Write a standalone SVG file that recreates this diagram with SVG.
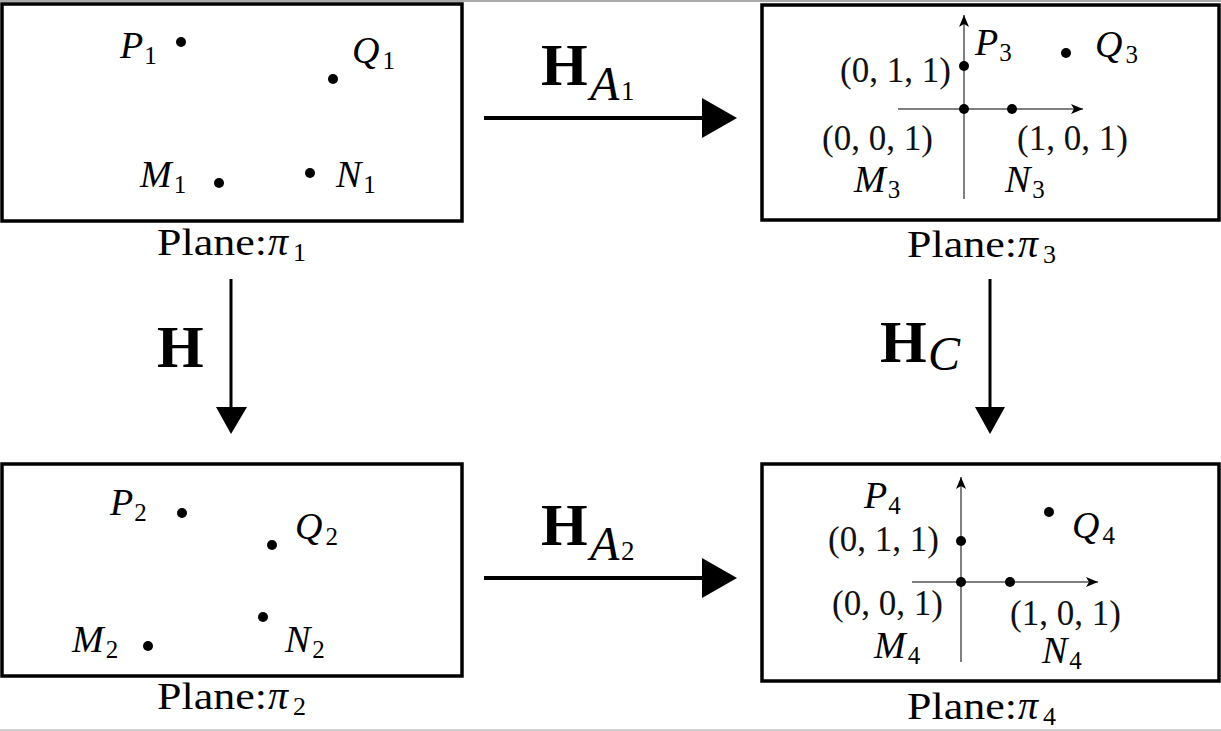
<svg xmlns="http://www.w3.org/2000/svg" width="1221" height="731" viewBox="0 0 1221 731">
<style>
  text { font-family: "Liberation Serif", "DejaVu Serif", serif; fill: #000; }
  .mi { font-size: 38px; font-style: italic; }
  .sub { font-size: 25px; font-style: normal; }
  .plane { font-size: 38px; }
  .pi { font-size: 40px; font-style: italic; }
  .psub { font-size: 26px; }
  .coord { font-size: 35px; fill: #111; }
  .bold { font-size: 60px; font-weight: bold; }
  .bsub { font-size: 48px; font-style: italic; }
  .bsub2 { font-size: 27px; }
  .box { fill: #fff; stroke: #000; stroke-width: 3.5; }
  .axis { stroke: #808080; stroke-width: 2; fill: none; }
  .dot { fill: #000; }
  .conn { stroke: #000; stroke-width: 4; fill: none; }
  .vconn { stroke: #000; stroke-width: 3; fill: none; }
</style>
<defs>
  <marker id="axhead" markerWidth="14" markerHeight="12" refX="12" refY="6" orient="auto" markerUnits="userSpaceOnUse">
    <path d="M0,1 L12,6 L0,11 L3,6 Z" fill="#000"/>
  </marker>
</defs>
<rect x="0" y="0" width="1221" height="731" fill="#fff"/>
<rect x="0" y="0" width="1221" height="2" fill="#aaa"/>
<rect x="0" y="729" width="1221" height="2" fill="#d0d0d0"/>

<g id="plane1">
  <rect class="box" x="2" y="4" width="460" height="217"/>
  <text class="mi" x="120" y="58">P<tspan class="sub" dx="1" dy="6">1</tspan></text>
  <circle class="dot" cx="181" cy="42" r="5"/>
  <text class="mi" x="352" y="63">Q<tspan class="sub" dx="3" dy="6">1</tspan></text>
  <circle class="dot" cx="333" cy="79" r="5"/>
  <text class="mi" x="140" y="187">M<tspan class="sub" dx="2" dy="6">1</tspan></text>
  <circle class="dot" cx="219" cy="183" r="5"/>
  <text class="mi" x="336" y="187">N<tspan class="sub" dx="2" dy="6">1</tspan></text>
  <circle class="dot" cx="310" cy="173" r="5"/>
  <text class="plane" x="157" y="255" textLength="110" lengthAdjust="spacingAndGlyphs">Plane:</text>
  <text class="pi" x="268" y="255">π</text><text class="psub" x="293" y="261">1</text>
</g>

<g id="plane2">
  <rect class="box" x="2" y="464" width="460" height="212"/>
  <text class="mi" x="110" y="515">P<tspan class="sub" dx="1" dy="6">2</tspan></text>
  <circle class="dot" cx="182" cy="513" r="5"/>
  <text class="mi" x="295" y="539">Q<tspan class="sub" dx="3" dy="6">2</tspan></text>
  <circle class="dot" cx="272" cy="545" r="5"/>
  <text class="mi" x="72" y="652">M<tspan class="sub" dx="2" dy="6">2</tspan></text>
  <circle class="dot" cx="148" cy="646" r="5"/>
  <text class="mi" x="285" y="652">N<tspan class="sub" dx="2" dy="6">2</tspan></text>
  <circle class="dot" cx="263" cy="617" r="5"/>
  <text class="plane" x="157" y="709" textLength="110" lengthAdjust="spacingAndGlyphs">Plane:</text>
  <text class="pi" x="268" y="709">π</text><text class="psub" x="293" y="715">2</text>
</g>

<g id="plane3">
  <rect class="box" x="762" y="5" width="457" height="215"/>
  <line class="axis" x1="964" y1="199" x2="964" y2="15" marker-end="url(#axhead)"/>
  <line class="axis" x1="898" y1="109" x2="1083" y2="109" marker-end="url(#axhead)"/>
  <circle class="dot" cx="964" cy="66" r="5"/>
  <circle class="dot" cx="964" cy="109" r="5"/>
  <circle class="dot" cx="1012" cy="109" r="5"/>
  <circle class="dot" cx="1066" cy="53" r="5"/>
  <text class="mi" x="975" y="55">P<tspan class="sub" dx="1" dy="6">3</tspan></text>
  <text class="mi" x="1095" y="57">Q<tspan class="sub" dx="3" dy="6">3</tspan></text>
  <text class="coord" x="840" y="82">(0, 1, 1)</text>
  <text class="coord" x="822" y="150">(0, 0, 1)</text>
  <text class="coord" x="1017" y="150">(1, 0, 1)</text>
  <text class="mi" x="854" y="192">M<tspan class="sub" dx="2" dy="6">3</tspan></text>
  <text class="mi" x="1005" y="192">N<tspan class="sub" dx="2" dy="6">3</tspan></text>
  <text class="plane" x="907" y="257" textLength="110" lengthAdjust="spacingAndGlyphs">Plane:</text>
  <text class="pi" x="1018" y="257">π</text><text class="psub" x="1043" y="263">3</text>
</g>

<g id="plane4">
  <rect class="box" x="762" y="464" width="457" height="217"/>
  <line class="axis" x1="961" y1="662" x2="961" y2="477" marker-end="url(#axhead)"/>
  <line class="axis" x1="912" y1="582" x2="1098" y2="582" marker-end="url(#axhead)"/>
  <circle class="dot" cx="961" cy="541" r="5"/>
  <circle class="dot" cx="961" cy="582" r="5"/>
  <circle class="dot" cx="1010" cy="582" r="5"/>
  <circle class="dot" cx="1049" cy="512" r="5"/>
  <text class="mi" x="864" y="508">P<tspan class="sub" dx="1" dy="6">4</tspan></text>
  <text class="mi" x="1072" y="538">Q<tspan class="sub" dx="3" dy="6">4</tspan></text>
  <text class="coord" x="828" y="551">(0, 1, 1)</text>
  <text class="coord" x="832" y="615">(0, 0, 1)</text>
  <text class="coord" x="1010" y="625">(1, 0, 1)</text>
  <text class="mi" x="874" y="658">M<tspan class="sub" dx="2" dy="6">4</tspan></text>
  <text class="mi" x="1042" y="663">N<tspan class="sub" dx="2" dy="6">4</tspan></text>
  <text class="plane" x="907" y="719" textLength="110" lengthAdjust="spacingAndGlyphs">Plane:</text>
  <text class="pi" x="1018" y="719">π</text><text class="psub" x="1043" y="725">4</text>
</g>

<g id="connectors">
  <line class="conn" x1="484" y1="118" x2="704" y2="118"/>
  <polygon points="702,98 737,118 702,138" fill="#000"/>
  <text class="bold" x="541" y="85">H</text><text class="bsub" x="590" y="100">A</text><text class="bsub2" x="621" y="100">1</text>

  <line class="conn" x1="484" y1="578" x2="704" y2="578"/>
  <polygon points="702,558 737,578 702,598" fill="#000"/>
  <text class="bold" x="541" y="545">H</text><text class="bsub" x="590" y="560">A</text><text class="bsub2" x="621" y="560">2</text>

  <line class="vconn" x1="231" y1="279" x2="231" y2="410"/>
  <polygon points="216,407 247,407 231,434" fill="#000"/>
  <text class="bold" x="157" y="367">H</text>

  <line class="vconn" x1="990" y1="279" x2="990" y2="410"/>
  <polygon points="975,407 1005,407 990,434" fill="#000"/>
  <text class="bold" x="880" y="362">H</text><text class="bsub" x="928" y="370">C</text>
</g>
</svg>
